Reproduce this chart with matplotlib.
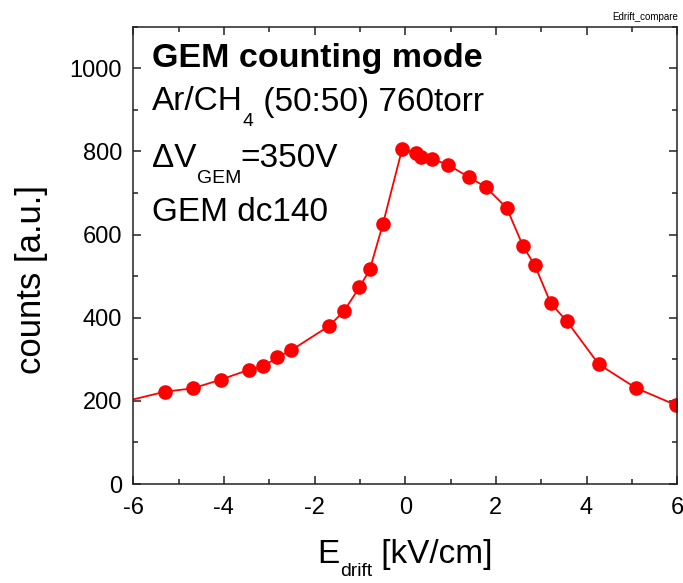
import matplotlib
matplotlib.use("Agg")
import matplotlib.pyplot as plt
from matplotlib.ticker import MultipleLocator
from matplotlib.transforms import IdentityTransform

# Drift field scan (GEM counting mode)
e_drift = [-6.7, -5.30, -4.69, -4.07, -3.44, -3.13, -2.82, -2.51, -1.68, -1.35,
           -1.01, -0.78, -0.49, -0.07, 0.24, 0.34, 0.60, 0.94, 1.41, 1.78,
           2.24, 2.60, 2.86, 3.21, 3.57, 4.27, 5.09, 5.97]
counts = [185, 222, 230, 251, 275, 283, 305, 322, 380, 416,
          473, 516, 626, 805, 796, 786, 782, 768, 738, 714,
          664, 572, 526, 435, 391, 288, 231, 190]

x_ticks = [-6, -4, -2, 0, 2, 4, 6]
y_ticks = [0, 200, 400, 600, 800, 1000]

plt.rcParams.update({
    "font.family": ["Liberation Sans", "DejaVu Sans"],
    "axes.unicode_minus": False,
})

W, H = 683, 583
fig = plt.figure(figsize=(W / 100, H / 100), dpi=100)
ax = fig.add_axes([0.195, 0.1698, 0.7965, 0.7844])

ax.plot(e_drift, counts, color="#ff0000", lw=1.3, marker="o", ms=9.5,
        mec="#ff0000", mfc="#ff0000")

ax.set_xlim(-6, 6)
ax.set_ylim(0, 1100)
ax.set_xticks(x_ticks)
ax.set_yticks(y_ticks)
ax.xaxis.set_minor_locator(MultipleLocator(1))
ax.yaxis.set_minor_locator(MultipleLocator(100))
ax.tick_params(which="both", direction="in", top=True, right=True,
               width=1.1, colors="#222222", labelcolor="black")
ax.tick_params(which="major", length=6, labelsize=17)
ax.tick_params(which="minor", length=3.6)
ax.tick_params(axis="x", which="major", pad=9)
ax.tick_params(axis="y", which="major", pad=8)
for sp in ax.spines.values():
    sp.set_linewidth(1.1)
    sp.set_color("#222222")

renderer = fig.canvas.get_renderer()


def rich_text(x_px, y_top, parts, size, weight="normal", ha="left",
              sub_scale=0.58, drop=0.47):
    """Write a line built from (text, is_subscript) pieces, in pixels."""
    y_px = H - y_top
    pieces = []
    cur = x_px
    for s, is_sub in parts:
        fs = size * sub_scale if is_sub else size
        yy = y_px - (drop * size * 100 / 72 if is_sub else 0)
        t = fig.text(cur, yy, s, fontsize=fs, fontweight=weight,
                     transform=IdentityTransform(), ha="left", va="baseline")
        cur += t.get_window_extent(renderer).width
        pieces.append(t)
    if ha == "center":
        shift = (cur - x_px) / 2
        for t in pieces:
            px, py = t.get_position()
            t.set_position((px - shift, py))
    return pieces


# Axis titles
rich_text(405, 563, [("E", False), ("drift", True), (" [kV/cm]", False)],
          24, ha="center", drop=0.40)
fig.text(32 / W, 1 - 280 / H, "counts [a.u.]", ha="center", va="center",
         rotation=90, fontsize=25)

# Run conditions
x0 = 152
rich_text(x0, 66.7, [("GEM counting mode", False)], 24.5, weight="bold")
rich_text(x0, 110.5, [("Ar/CH", False), ("4", True),
                      (" (50:50) 760torr", False)], 24)
rich_text(x0, 167.3, [("\u0394V", False), ("GEM", True), ("=350V", False)],
          24)
rich_text(x0, 221, [("GEM dc140", False)], 24)

fig.text(0.993, 1 - 20 / H, "Edrift_compare", ha="right", va="baseline",
         fontsize=7)

fig.savefig("out.png", dpi=100)
